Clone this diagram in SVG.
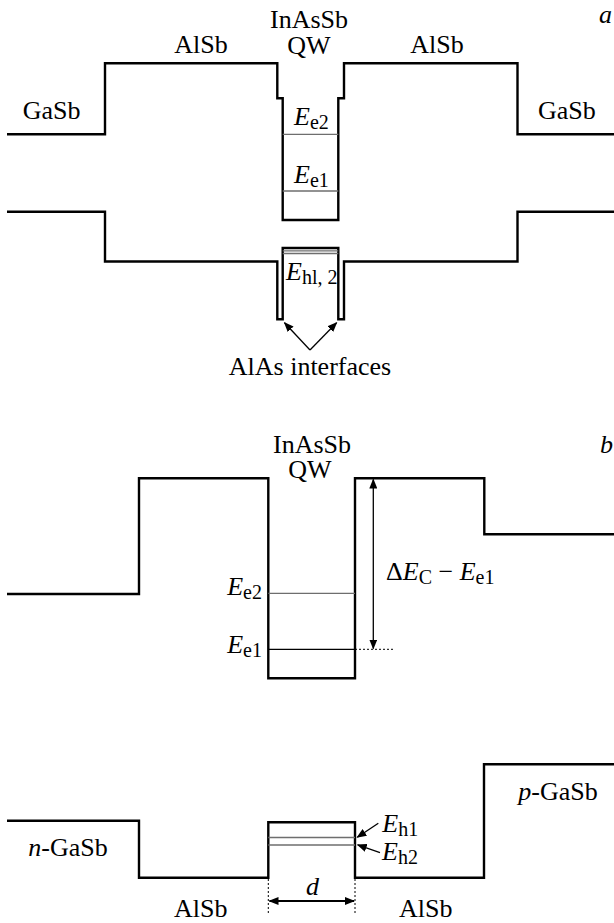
<svg xmlns="http://www.w3.org/2000/svg" width="614" height="923" viewBox="0 0 614 923">
<defs>
<style>
.band{fill:none;stroke:#000;stroke-width:2.4;stroke-linejoin:miter}
.lvl{fill:none;stroke:#6e6e6e;stroke-width:1.3}
.lvlk{fill:none;stroke:#000;stroke-width:1.3}
.dot{fill:none;stroke:#000;stroke-width:1;stroke-dasharray:2,2}
.arr{fill:none;stroke:#000;stroke-width:1.3}
.arr2{fill:none;stroke:#000;stroke-width:1.8}
text{font-family:"Liberation Serif","Times New Roman",serif;font-size:26px;fill:#000}
.it{font-style:italic}
.sub{font-size:20px;font-style:normal}
</style>
<marker id="ah" markerWidth="10" markerHeight="8" refX="9" refY="4" orient="auto" markerUnits="userSpaceOnUse">
<path d="M0,0 L10,4 L0,8 Z" fill="#000"/>
</marker>
<marker id="ahs" markerWidth="10" markerHeight="8" refX="1" refY="4" orient="auto" markerUnits="userSpaceOnUse">
<path d="M10,0 L0,4 L10,8 Z" fill="#000"/>
</marker>
</defs>

<g id="panel-a">
<g id="a-conduction">
<path class="band" d="M7,134.3 H105 V63.3 H277.3 V98.3 H282.7 V220 H338.3 V98.3 H344 V63.3 H517.5 V134.3 H614"/>
<line class="lvl" x1="282.7" y1="134.3" x2="338.3" y2="134.3"/>
<line class="lvl" x1="282.7" y1="191" x2="338.3" y2="191"/>
</g>
<g id="a-valence">
<path class="band" d="M7,211.7 H105 V261.5 H277.3 V319.3 H282.7 V248 H338.3 V319.3 H344 V261.5 H517.5 V211.7 H614"/>
<line class="lvl" x1="282.7" y1="250.8" x2="338.3" y2="250.8"/>
<line class="lvl" x1="282.7" y1="253.5" x2="338.3" y2="253.5"/>
</g>
<g id="a-labels">
<text x="309" y="28" text-anchor="middle">InAsSb</text>
<text x="309" y="54" text-anchor="middle">QW</text>
<text x="201" y="53" text-anchor="middle">AlSb</text>
<text x="437" y="53" text-anchor="middle">AlSb</text>
<text x="22.7" y="119.3">GaSb</text>
<text x="538" y="119.3">GaSb</text>
<text class="it" x="599" y="23.3">a</text>
<text x="294" y="125"><tspan class="it">E</tspan><tspan class="sub" dy="4">e2</tspan></text>
<text x="294" y="183"><tspan class="it">E</tspan><tspan class="sub" dy="4">e1</tspan></text>
<text x="286" y="280"><tspan class="it">E</tspan><tspan class="sub" dy="4">hl, 2</tspan></text>
<text x="310" y="375" text-anchor="middle">AlAs interfaces</text>
</g>
</g>

<g id="panel-b">
<g id="b-conduction">
<path class="band" d="M7,594 H139 V478.3 H268.3 V678.3 H355 V478.3 H484.3 V534.3 H614"/>
<line class="lvl" x1="268.3" y1="593.3" x2="355" y2="593.3"/>
<line class="lvlk" x1="268.3" y1="649.3" x2="355" y2="649.3"/>
<line class="dot" x1="355" y1="649.3" x2="393" y2="649.3"/>
</g>
<g id="b-valence">
<path class="band" d="M7,820.7 H139 V877.7 H268.3 V822.3 H355 V877.7 H484 V764.3 H614"/>
<line class="lvl" x1="268.3" y1="837.5" x2="355" y2="837.5"/>
<line class="lvl" x1="268.3" y1="845" x2="355" y2="845"/>
<line class="dot" x1="268.3" y1="879" x2="268.3" y2="913.5"/>
<line class="dot" x1="355" y1="879" x2="355" y2="913.5"/>
</g>
<g id="b-labels">
<text x="312" y="453" text-anchor="middle">InAsSb</text>
<text x="310" y="478" text-anchor="middle">QW</text>
<text class="it" x="600" y="453">b</text>
<text x="262" y="595" text-anchor="end"><tspan class="it">E</tspan><tspan class="sub" dy="4">e2</tspan></text>
<text x="262" y="652.7" text-anchor="end"><tspan class="it">E</tspan><tspan class="sub" dy="4">e1</tspan></text>
<text x="386" y="580">Δ<tspan class="it">E</tspan><tspan class="sub" dy="4">C</tspan><tspan dy="-4"> − </tspan><tspan class="it">E</tspan><tspan class="sub" dy="4">e1</tspan></text>
<text x="28.3" y="856"><tspan class="it">n</tspan>-GaSb</text>
<text x="518.3" y="800"><tspan class="it">p</tspan>-GaSb</text>
<text x="174" y="916.7">AlSb</text>
<text x="399" y="916.7">AlSb</text>
<text class="it" x="306" y="895">d</text>
<text x="382.3" y="831.7"><tspan class="it">E</tspan><tspan class="sub" dy="4">h1</tspan></text>
<text x="382" y="860"><tspan class="it">E</tspan><tspan class="sub" dy="4">h2</tspan></text>
</g>
</g>

<g id="connectors">
<line class="arr" x1="310" y1="350" x2="284.5" y2="322.7" marker-end="url(#ah)"/>
<line class="arr" x1="310" y1="350" x2="336.6" y2="322.7" marker-end="url(#ah)"/>
<line class="arr" x1="373.3" y1="479.5" x2="373.3" y2="648.5" marker-start="url(#ahs)" marker-end="url(#ah)"/>
<line class="arr2" x1="269.5" y1="901" x2="354" y2="901" marker-start="url(#ahs)" marker-end="url(#ah)"/>
<line class="arr" x1="378.3" y1="823.3" x2="357.3" y2="837.3" marker-end="url(#ah)"/>
<line class="arr" x1="380" y1="852.7" x2="357.7" y2="844.9" marker-end="url(#ah)"/>
</g>
</svg>
